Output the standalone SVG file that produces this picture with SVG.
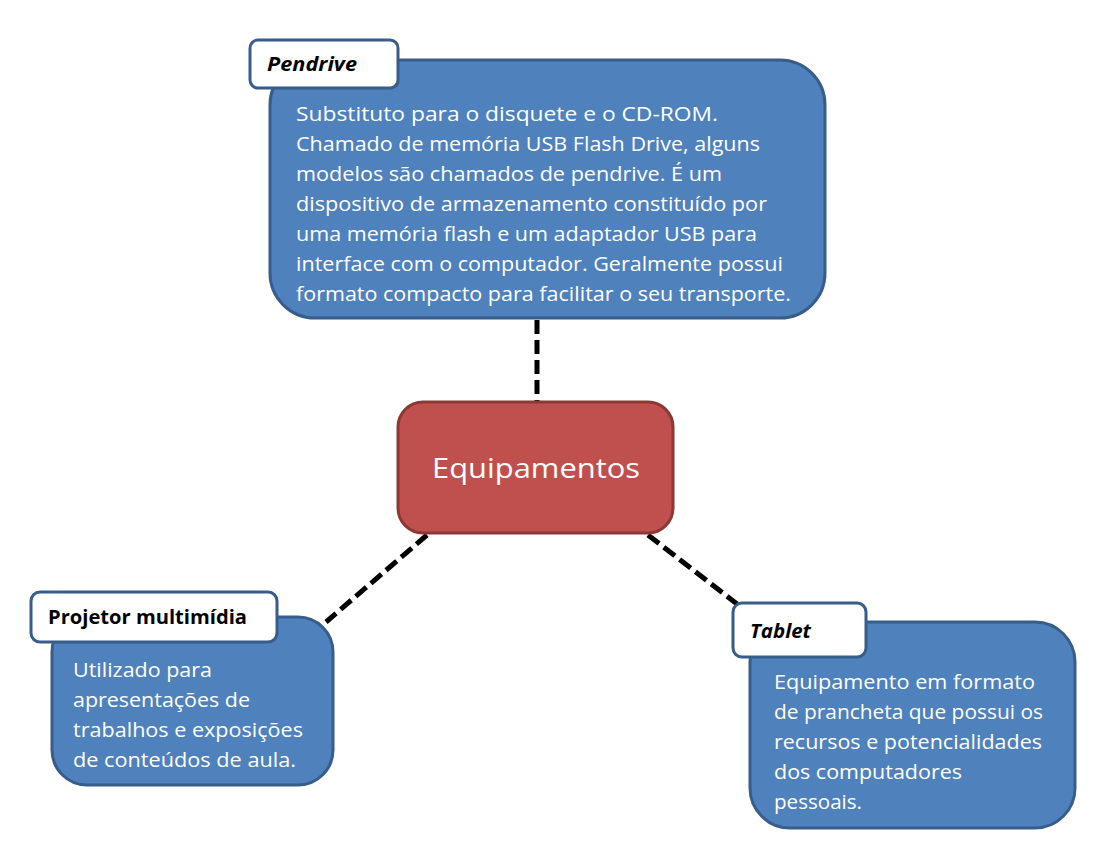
<svg xmlns="http://www.w3.org/2000/svg" width="1104" height="860" viewBox="0 0 1104 860">
<style>
.box{fill:#4F81BD;stroke:#385D8A;stroke-width:3}
.lab{fill:#FFFFFF;stroke:#385D8A;stroke-width:3}
.body{font-family:"Open Sans","Liberation Sans",sans-serif;font-size:20px;fill:#FFFFFF}
.head{font-family:"Open Sans","Liberation Sans",sans-serif;font-size:19px;font-weight:bold;fill:#000000}
.conn{stroke:#000000;stroke-width:5;stroke-dasharray:14 6;fill:none}
</style>
<rect width="1104" height="860" fill="#FFFFFF"/>
<g id="connectors">
<line class="conn" x1="537" y1="320" x2="537" y2="401"/>
<line class="conn" x1="427" y1="535" x2="326" y2="622"/>
<line class="conn" x1="648" y1="535" x2="737" y2="604"/>
</g>
<g id="pendrive">
<rect class="box" x="270" y="60" width="555" height="258" rx="45"/>
<rect class="lab" x="250" y="40" width="148" height="48" rx="8"/>
<text class="head" x="267" y="71" font-style="italic" textLength="90" lengthAdjust="spacingAndGlyphs">Pendrive</text>
<text class="body" x="296" y="121" textLength="422" lengthAdjust="spacingAndGlyphs">Substituto para o disquete e o CD-ROM.</text>
<text class="body" x="296" y="151" textLength="464" lengthAdjust="spacingAndGlyphs">Chamado de memória USB Flash Drive, alguns</text>
<text class="body" x="296" y="181" textLength="426" lengthAdjust="spacingAndGlyphs">modelos são chamados de pendrive. É um</text>
<text class="body" x="296" y="211" textLength="471" lengthAdjust="spacingAndGlyphs">dispositivo de armazenamento constituído por</text>
<text class="body" x="296" y="241" textLength="461" lengthAdjust="spacingAndGlyphs">uma memória flash e um adaptador USB para</text>
<text class="body" x="296" y="271" textLength="487" lengthAdjust="spacingAndGlyphs">interface com o computador. Geralmente possui</text>
<text class="body" x="296" y="301" textLength="495" lengthAdjust="spacingAndGlyphs">formato compacto para facilitar o seu transporte.</text>
</g>
<g id="equipamentos">
<rect x="398" y="402" width="275" height="131" rx="25" fill="#C0504D" stroke="#8C3836" stroke-width="3"/>
<text x="536" y="478" text-anchor="middle" font-family="'Open Sans','Liberation Sans',sans-serif" font-size="28" fill="#FFFFFF" textLength="208" lengthAdjust="spacingAndGlyphs">Equipamentos</text>
</g>
<g id="projetor">
<rect class="box" x="52" y="617" width="281" height="168" rx="35"/>
<rect class="lab" x="31" y="592" width="246" height="50" rx="9"/>
<text class="head" x="48" y="624" textLength="199" lengthAdjust="spacingAndGlyphs">Projetor multimídia</text>
<text class="body" x="73" y="677" textLength="139" lengthAdjust="spacingAndGlyphs">Utilizado para</text>
<text class="body" x="73" y="707" textLength="177" lengthAdjust="spacingAndGlyphs">apresentações de</text>
<text class="body" x="73" y="737" textLength="230" lengthAdjust="spacingAndGlyphs">trabalhos e exposições</text>
<text class="body" x="73" y="767" textLength="223" lengthAdjust="spacingAndGlyphs">de conteúdos de aula.</text>
</g>
<g id="tablet">
<rect class="box" x="750" y="622" width="325" height="206" rx="40"/>
<rect class="lab" x="733" y="603" width="133" height="54" rx="9"/>
<text class="head" x="750" y="638" font-style="italic" textLength="61" lengthAdjust="spacingAndGlyphs">Tablet</text>
<text class="body" x="774" y="689" textLength="261" lengthAdjust="spacingAndGlyphs">Equipamento em formato</text>
<text class="body" x="774" y="719" textLength="269" lengthAdjust="spacingAndGlyphs">de prancheta que possui os</text>
<text class="body" x="774" y="749" textLength="268" lengthAdjust="spacingAndGlyphs">recursos e potencialidades</text>
<text class="body" x="774" y="779" textLength="188" lengthAdjust="spacingAndGlyphs">dos computadores</text>
<text class="body" x="774" y="809" textLength="88" lengthAdjust="spacingAndGlyphs">pessoais.</text>
</g>
</svg>
